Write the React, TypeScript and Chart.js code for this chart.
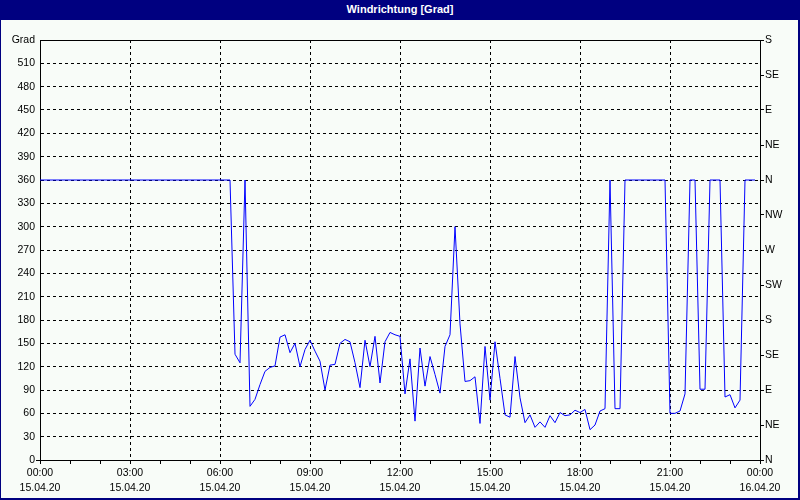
import React, { useEffect, useRef } from 'react';
import { Chart, registerables } from 'chart.js';

Chart.register(...registerables);

const chartTitle = 'Windrichtung [Grad]';
const yUnitLabel = 'Grad';

// sampling grid of the logger (minutes after 15.04.20 00:00)
const startMinutes = 0;
const sampleStepMinutes = 10;

// wind direction in degrees, one value per 10 minutes (00:00 .. 23:50)
const windDirection = [
  360, 360, 360, 360, 360, 360, 360, 360, 360, 360, 360, 360,
  360, 360, 360, 360, 360, 360, 360, 360, 360, 360, 360, 360,
  360, 360, 360, 360, 360, 360, 360, 360, 360, 360, 360, 360,
  360, 360, 360, 136, 125, 360, 69, 78, 97, 114, 119, 121,
  158, 161, 138, 150, 120, 142, 154, 140, 127, 90, 122, 123,
  150, 155, 152, 125, 93, 154, 120, 159, 99, 152, 164, 161,
  159, 85, 130, 50, 144, 95, 133, 110, 86, 146, 161, 300,
  175, 101, 102, 107, 47, 146, 77, 152, 105, 58, 55, 133,
  80, 48, 58, 42, 49, 42, 57, 48, 61, 57, 58, 64,
  61, 65, 39, 45, 63, 66, 360, 66, 66, 360, 360, 360,
  360, 360, 360, 360, 360, 360, 60, 60, 63, 85, 360, 360,
  91, 91, 360, 360, 360, 81, 84, 67, 77, 360, 360, 360,
];

const xTickTimes = ['00:00', '03:00', '06:00', '09:00', '12:00', '15:00', '18:00', '21:00', '00:00'];
const xTickDates = ['15.04.20', '15.04.20', '15.04.20', '15.04.20', '15.04.20', '15.04.20', '15.04.20', '15.04.20', '16.04.20'];
const compassLabels = ['N', 'NE', 'E', 'SE', 'S', 'SW', 'W', 'NW', 'N', 'NE', 'E', 'SE', 'S'];

const FONT_FAMILY = "'Liberation Sans Narrow', 'Liberation Sans', Arial, sans-serif";
const TRANSPARENT = 'rgba(0,0,0,0)';

const framePlugin = {
  id: 'frame',
  beforeDatasetsDraw(chart: any) {
    const { ctx, chartArea } = chart;
    ctx.save();
    ctx.strokeStyle = '#000';
    ctx.lineWidth = 1;
    ctx.setLineDash([]);
    ctx.strokeRect(chartArea.left + 0.5, chartArea.top + 0.5, chartArea.right - chartArea.left, chartArea.bottom - chartArea.top);
    ctx.restore();
  },
};

export default function App() {
  const canvasRef = useRef<HTMLCanvasElement | null>(null);

  useEffect(() => {
    const canvas = canvasRef.current;
    if (!canvas) return;
    const points = windDirection.map((v, i) => ({ x: startMinutes + i * sampleStepMinutes, y: v }));
    const tickFont = { family: FONT_FAMILY, size: 10.5 };
    const chart = new Chart(canvas, {
      type: 'line',
      data: {
        datasets: [
          {
            data: points,
            borderColor: '#0000FF',
            borderWidth: 1,
            pointRadius: 0,
            tension: 0,
            fill: false,
            yAxisID: 'y',
            xAxisID: 'x',
          },
        ],
      },
      options: {
        animation: false,
        responsive: false,
        devicePixelRatio: 1,
        layout: { padding: { top: 40, left: 0, right: 0, bottom: 0 } },
        plugins: {
          legend: { display: false },
          tooltip: { enabled: false },
          title: { display: false },
        },
        scales: {
          x: {
            type: 'linear',
            position: 'bottom',
            min: 0,
            max: 1440,
            afterFit: (s: any) => { s.height = 40; },
            ticks: {
              stepSize: 60,
              autoSkip: false,
              maxRotation: 0,
              minRotation: 0,
              padding: 2,
              color: '#000',
              font: { family: FONT_FAMILY, size: 10.5, lineHeight: 1.42 },
              callback: (v: any) => {
                const n = Number(v);
                if (n % 180 !== 0) return '';
                const i = Math.round(n / 180);
                return [xTickTimes[i], xTickDates[i]];
              },
            },
            grid: {
              color: (c: any) =>
                c.tick && c.tick.value % 180 === 0 && c.tick.value > 0 && c.tick.value < 1440 ? '#000' : TRANSPARENT,
              tickColor: '#000',
              tickLength: 4,
              lineWidth: 1,
            },
            border: { display: true, color: '#000', dash: [3, 3] },
          },
          y: {
            type: 'linear',
            position: 'left',
            min: 0,
            max: 540,
            afterFit: (s: any) => { s.width = 40; },
            ticks: {
              stepSize: 30,
              padding: 1,
              color: '#000',
              font: tickFont,
              callback: (v: any) => (Number(v) === 540 ? yUnitLabel : String(v)),
            },
            grid: {
              color: (c: any) => (c.tick && c.tick.value > 0 && c.tick.value < 540 ? '#000' : TRANSPARENT),
              tickColor: (c: any) => (c.tick && c.tick.value === 0 ? '#000' : TRANSPARENT),
              tickLength: 4,
              lineWidth: 1,
            },
            border: { display: true, color: '#000', dash: [3, 3] },
          },
          y2: {
            type: 'linear',
            position: 'right',
            min: 0,
            max: 540,
            afterFit: (s: any) => { s.width = 40; },
            ticks: {
              stepSize: 45,
              padding: 1,
              color: '#000',
              font: tickFont,
              callback: (v: any) => compassLabels[Math.round(Number(v) / 45)] ?? '',
            },
            grid: {
              drawOnChartArea: false,
              color: '#000',
              tickColor: '#000',
              tickLength: 4,
              lineWidth: 1,
            },
            border: { display: true, color: '#000' },
          },
        },
      } as any,
      plugins: [framePlugin],
    });
    return () => chart.destroy();
  }, []);

  return (
    <div style={{ position: 'fixed', left: 0, top: 0, width: 800, height: 500, background: '#000080', overflow: 'hidden' }}>
      <div
        style={{
          position: 'absolute',
          left: 0,
          top: 0,
          width: 800,
          height: 20,
          lineHeight: '19px',
          textAlign: 'center',
          color: '#FFFFFF',
          fontFamily: FONT_FAMILY,
          fontWeight: 'bold',
          fontSize: 11,
        }}
      >
        {chartTitle}
      </div>
      <div style={{ position: 'absolute', left: 1, top: 20, width: 797, height: 478, background: '#F8FCF8' }} />
      <canvas
        ref={canvasRef}
        width={800}
        height={500}
        style={{ position: 'absolute', left: 0, top: 0, width: 800, height: 500 }}
      />
    </div>
  );
}
